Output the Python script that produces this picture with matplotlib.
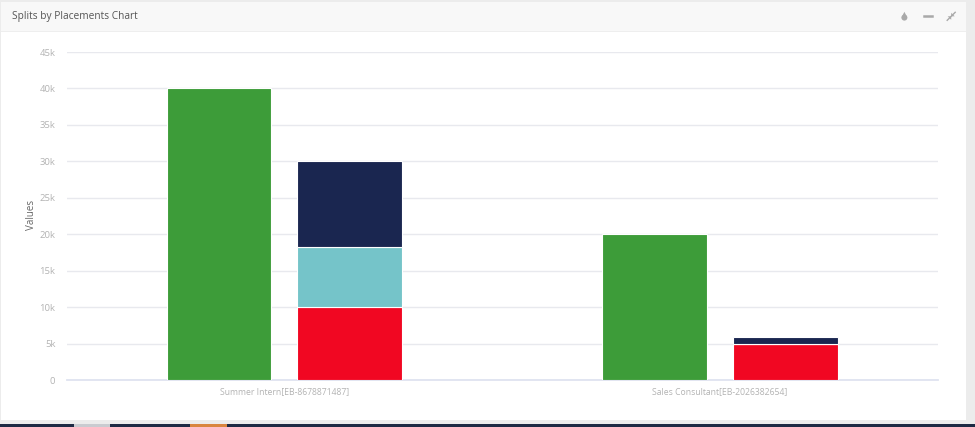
import matplotlib
matplotlib.use("Agg")
import matplotlib.pyplot as plt
from matplotlib.patches import Rectangle, Polygon, Ellipse
from matplotlib.ticker import FuncFormatter

plt.rcParams['font.family'] = ['Open Sans', 'DejaVu Sans']

categories = ["Summer Intern[EB-8678871487]", "Sales Consultant[EB-2026382654]"]
green_values = [40000, 20000]
red_values = [10000, 5000]
teal_values = [8300, 0]
navy_values = [11700, 900]
y_ticks = [0, 5000, 10000, 15000, 20000, 25000, 30000, 35000, 40000, 45000]

W, H = 975, 427
fig = plt.figure(figsize=(9.752, 4.272), dpi=100, facecolor="#ececec")


def px_rect(x0, y0, x1, y1, color, z=0):
    fig.add_artist(Rectangle((x0 / W, 1 - y1 / H), (x1 - x0) / W, (y1 - y0) / H,
                             transform=fig.transFigure, facecolor=color,
                             edgecolor="none", zorder=z))


px_rect(1, 2, 966, 420, "white")
px_rect(1, 2, 966, 32, "#f8f8f8")
px_rect(1, 31.5, 966, 32.5, "#eeeeee")
px_rect(0, 424.5, 975, 427, "#1d2a44")
px_rect(74, 424.5, 110, 427, "#c9cbd0")
px_rect(190, 424.5, 227, 427, "#d9853f")

fig.text(12 / W, 1 - 16 / H, "Splits by Placements Chart", fontsize=7.3,
         color="#555555", va="center", ha="left")

# header icons
icon = "#a9a9a9"
fig.add_artist(Polygon([[904.2 / W, 1 - 12 / H], [901.4 / W, 1 - 17.5 / H], [907 / W, 1 - 17.5 / H]],
                       transform=fig.transFigure, facecolor=icon, edgecolor="none"))
fig.add_artist(Ellipse((904.2 / W, 1 - 17.8 / H), 6 / W, 6 / H,
                       transform=fig.transFigure, facecolor=icon, edgecolor="none"))
fig.add_artist(plt.Line2D([923.5 / W, 932 / W], [1 - 16.5 / H, 1 - 16.5 / H], lw=1.8,
                          color=icon, transform=fig.transFigure))
fig.add_artist(plt.Line2D([947 / W, 955 / W], [1 - 20.5 / H, 1 - 12.5 / H], lw=1.0,
                          color=icon, transform=fig.transFigure))
fig.add_artist(Polygon([[951 / W, 1 - 16.5 / H], [951 / W, 1 - 20 / H], [947.5 / W, 1 - 16.5 / H]],
                       transform=fig.transFigure, facecolor=icon, edgecolor="none"))
fig.add_artist(Polygon([[951 / W, 1 - 16.5 / H], [951 / W, 1 - 13 / H], [954.5 / W, 1 - 16.5 / H]],
                       transform=fig.transFigure, facecolor=icon, edgecolor="none"))

left, right, top, bottom = 66.5, 937.5, 52, 380
ax = fig.add_axes([left / W, 1 - bottom / H, (right - left) / W, (bottom - top) / H])
ax.patch.set_alpha(0)
ax.set_xlim(-0.5, 1.5)
ax.set_ylim(0, 45000)

bar_w = 0.24
offset = 0.15
xs = list(range(len(categories)))
edge = dict(edgecolor="white", linewidth=0.8, zorder=3)

ax.bar([x - offset for x in xs], green_values, bar_w, color="#3d9c39", **edge)
ax.bar([x + offset for x in xs], red_values, bar_w, color="#f10722", **edge)
ax.bar([x + offset for x in xs], teal_values, bar_w, bottom=red_values, color="#75c4c9", **edge)
ax.bar([x + offset for x in xs], navy_values, bar_w,
       bottom=[r + t for r, t in zip(red_values, teal_values)], color="#1a2650", **edge)

ax.set_yticks(y_ticks)
ax.yaxis.set_major_formatter(FuncFormatter(lambda v, _: "0" if v == 0 else f"{int(v / 1000)}k"))
ax.set_xticks(xs)
ax.set_xticklabels(categories)
ax.tick_params(axis="y", length=0, labelsize=6.8, labelcolor="#b3b3b3", pad=8)
ax.tick_params(axis="x", length=0, labelsize=6.2, labelcolor="#b3b3b3", pad=5)
ax.grid(axis="y", color="#e8e9ee", linewidth=1, zorder=0)
ax.set_axisbelow(True)
for s in ["top", "left", "right"]:
    ax.spines[s].set_visible(False)
ax.spines["bottom"].set_color("#dfe3f0")
ax.spines["bottom"].set_linewidth(1.3)

fig.text(31 / W, 1 - 215 / H, "Values", rotation=90, fontsize=7.0, color="#666666",
         va="center", ha="center")

fig.savefig("out.png", dpi=100, facecolor=fig.get_facecolor())
